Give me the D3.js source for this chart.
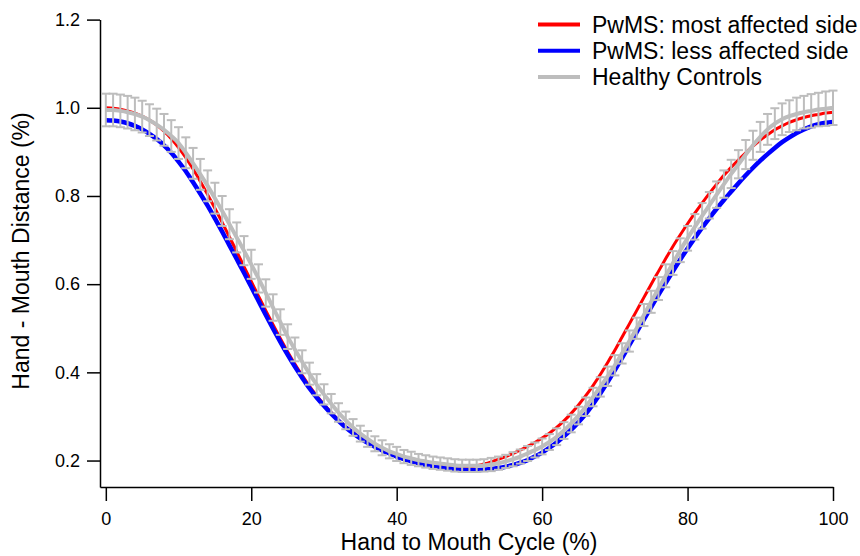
<!DOCTYPE html>
<html>
<head>
<meta charset="utf-8">
<script src="https://cdn.jsdelivr.net/npm/d3@7"></script>
<style>
  body { margin: 0; background: #fff; }
  svg { display: block; font-family: "Liberation Sans", Arial, sans-serif; }
</style>
</head>
<body>
<div id="chart"></div>
<script>
// Percent of hand-to-mouth cycle (0..100, every 1%)
const cycle = d3.range(0, 101);

// PwMS: most affected side (mean)
const mostAffected = [
  1.000, 0.999, 0.997, 0.993, 0.988, 0.981, 0.972, 0.961, 0.947, 0.930,
  0.910, 0.887, 0.861, 0.833, 0.803, 0.772, 0.740, 0.707, 0.674, 0.640,
  0.606, 0.573, 0.540, 0.508, 0.477, 0.447, 0.419, 0.393, 0.369, 0.347,
  0.327, 0.309, 0.292, 0.277, 0.264, 0.252, 0.242, 0.233, 0.225, 0.218,
  0.212, 0.206, 0.201, 0.197, 0.193, 0.190, 0.187, 0.185, 0.184, 0.184,
  0.185, 0.188, 0.192, 0.197, 0.203, 0.209, 0.216, 0.224, 0.232, 0.241,
  0.251, 0.262, 0.275, 0.290, 0.307, 0.326, 0.347, 0.370, 0.395, 0.422,
  0.450, 0.480, 0.510, 0.540, 0.570, 0.600, 0.629, 0.658, 0.686, 0.712,
  0.737, 0.761, 0.784, 0.806, 0.827, 0.847, 0.865, 0.882, 0.898, 0.913,
  0.927, 0.939, 0.950, 0.959, 0.967, 0.973, 0.978, 0.982, 0.985, 0.988,
  0.990
];

// PwMS: less affected side (mean)
const lessAffected = [
  0.972, 0.971, 0.969, 0.965, 0.959, 0.951, 0.941, 0.929, 0.915, 0.898,
  0.878, 0.856, 0.831, 0.805, 0.778, 0.749, 0.719, 0.688, 0.657, 0.626,
  0.594, 0.562, 0.530, 0.499, 0.469, 0.440, 0.413, 0.388, 0.364, 0.343,
  0.324, 0.306, 0.290, 0.275, 0.262, 0.250, 0.240, 0.231, 0.223, 0.216,
  0.209, 0.203, 0.198, 0.194, 0.190, 0.187, 0.184, 0.182, 0.180, 0.179,
  0.178, 0.178, 0.179, 0.181, 0.183, 0.186, 0.190, 0.195, 0.201, 0.209,
  0.218, 0.229, 0.241, 0.255, 0.270, 0.287, 0.306, 0.328, 0.352, 0.378,
  0.405, 0.433, 0.462, 0.491, 0.520, 0.548, 0.576, 0.603, 0.630, 0.656,
  0.681, 0.705, 0.728, 0.750, 0.771, 0.791, 0.810, 0.829, 0.847, 0.864,
  0.880, 0.895, 0.909, 0.922, 0.933, 0.943, 0.951, 0.958, 0.963, 0.966,
  0.968
];

// Healthy controls (mean and SD)
const healthyMean = [
  0.995, 0.995, 0.993, 0.990, 0.986, 0.980, 0.972, 0.962, 0.950, 0.936,
  0.920, 0.898, 0.874, 0.849, 0.823, 0.795, 0.766, 0.736, 0.706, 0.676,
  0.645, 0.613, 0.580, 0.547, 0.514, 0.481, 0.452, 0.424, 0.397, 0.372,
  0.350, 0.329, 0.309, 0.291, 0.275, 0.261, 0.249, 0.238, 0.229, 0.221,
  0.215, 0.209, 0.205, 0.201, 0.198, 0.195, 0.193, 0.191, 0.189, 0.188,
  0.188, 0.188, 0.189, 0.191, 0.194, 0.198, 0.203, 0.209, 0.216, 0.224,
  0.232, 0.242, 0.254, 0.268, 0.284, 0.302, 0.322, 0.344, 0.367, 0.391,
  0.416, 0.443, 0.471, 0.500, 0.530, 0.560, 0.590, 0.619, 0.648, 0.677,
  0.704, 0.730, 0.755, 0.779, 0.803, 0.827, 0.850, 0.872, 0.894, 0.915,
  0.934, 0.951, 0.964, 0.974, 0.981, 0.986, 0.990, 0.993, 0.996, 0.998,
  1.000
];
const healthySD = [
  0.037, 0.037, 0.037, 0.037, 0.037, 0.036, 0.036, 0.036, 0.036, 0.036,
  0.036, 0.035, 0.035, 0.035, 0.035, 0.035, 0.034, 0.034, 0.034, 0.033,
  0.033, 0.032, 0.031, 0.030, 0.029, 0.028, 0.027, 0.026, 0.025, 0.024,
  0.023, 0.022, 0.021, 0.020, 0.019, 0.018, 0.018, 0.017, 0.017, 0.016,
  0.016, 0.015, 0.015, 0.014, 0.014, 0.014, 0.014, 0.014, 0.014, 0.014,
  0.014, 0.014, 0.014, 0.015, 0.015, 0.015, 0.016, 0.016, 0.017, 0.017,
  0.018, 0.018, 0.019, 0.019, 0.020, 0.020, 0.021, 0.021, 0.022, 0.022,
  0.023, 0.023, 0.024, 0.024, 0.025, 0.025, 0.026, 0.026, 0.027, 0.027,
  0.028, 0.029, 0.029, 0.030, 0.030, 0.031, 0.032, 0.032, 0.033, 0.033,
  0.034, 0.035, 0.035, 0.036, 0.036, 0.037, 0.037, 0.038, 0.038, 0.039,
  0.039
];

const xTicks = [0, 20, 40, 60, 80, 100];
const yTicks = [0.2, 0.4, 0.6, 0.8, 1.0, 1.2];

const seriesNames = ["PwMS: most affected side", "PwMS: less affected side", "Healthy Controls"];
const seriesColors = ["#ff0000", "#0000ff", "#bdbdbd"];

const width = 860, height = 556;
const gray = "#bdbdbd";

const svg = d3.select("#chart").append("svg")
  .attr("width", width)
  .attr("height", height);

// scales
const x = d3.scaleLinear().domain([-0.8, 100]).range([100, 833]);
const y = d3.scaleLinear().domain([0.14, 1.2]).range([487, 19.6]);

// axes
const xAxis = svg.append("g")
  .attr("transform", `translate(0,${y(0.14)})`)
  .call(d3.axisBottom(x).tickValues(xTicks).tickFormat(d3.format("d"))
    .tickSizeInner(14).tickSizeOuter(0).tickPadding(11));

const yAxis = svg.append("g")
  .attr("transform", `translate(${x(-0.8)},0)`)
  .call(d3.axisLeft(y).tickValues(yTicks).tickFormat(d3.format(".1f"))
    .tickSizeInner(13).tickSizeOuter(0).tickPadding(7));

[xAxis, yAxis].forEach(g => {
  g.selectAll("path, line").attr("stroke", "#000").attr("stroke-width", 1.5);
  g.selectAll("text").attr("fill", "#000").style("font-size", "18px")
    .style("font-family", '"Liberation Sans", Arial, sans-serif');
});

// axis titles
svg.append("text")
  .attr("x", 469)
  .attr("y", 550)
  .attr("text-anchor", "middle")
  .style("font-size", "23px")
  .text("Hand to Mouth Cycle (%)");

svg.append("text")
  .attr("transform", "translate(29,251) rotate(-90)")
  .attr("text-anchor", "middle")
  .style("font-size", "23px")
  .text("Hand - Mouth Distance (%)");

// lines
const line = d3.line()
  .x((d, i) => x(cycle[i]))
  .y(d => y(d))
  .curve(d3.curveMonotoneX);

svg.append("path")
  .datum(mostAffected)
  .attr("fill", "none")
  .attr("stroke", seriesColors[0])
  .attr("stroke-width", 3)
  .attr("d", line);

svg.append("path")
  .datum(lessAffected)
  .attr("fill", "none")
  .attr("stroke", seriesColors[1])
  .attr("stroke-width", 4.5)
  .attr("d", line);

// healthy error bars (mean +/- SD)
const bars = svg.append("g")
  .attr("stroke", gray)
  .attr("stroke-width", 2)
  .selectAll("g")
  .data(cycle)
  .join("g");

bars.append("line")
  .attr("x1", d => x(d)).attr("x2", d => x(d))
  .attr("y1", (d, i) => y(healthyMean[i] + healthySD[i]))
  .attr("y2", (d, i) => y(healthyMean[i] - healthySD[i]));

bars.append("line")
  .attr("x1", d => x(d) - 4.5).attr("x2", d => x(d) + 4.5)
  .attr("y1", (d, i) => y(healthyMean[i] + healthySD[i]))
  .attr("y2", (d, i) => y(healthyMean[i] + healthySD[i]));

bars.append("line")
  .attr("x1", d => x(d) - 4.5).attr("x2", d => x(d) + 4.5)
  .attr("y1", (d, i) => y(healthyMean[i] - healthySD[i]))
  .attr("y2", (d, i) => y(healthyMean[i] - healthySD[i]));

svg.append("path")
  .datum(healthyMean)
  .attr("fill", "none")
  .attr("stroke", seriesColors[2])
  .attr("stroke-width", 4)
  .attr("d", line);

// legend
const legend = svg.append("g")
  .selectAll("g")
  .data(seriesNames)
  .join("g")
  .attr("transform", (d, i) => `translate(538,${24.5 + i * 26.2})`);

legend.append("line")
  .attr("x1", 0).attr("x2", 42)
  .attr("stroke", (d, i) => seriesColors[i])
  .attr("stroke-width", 4);

legend.append("text")
  .attr("x", 54)
  .attr("dy", "0.36em")
  .style("font-size", "23px")
  .text(d => d);
</script>
</body>
</html>
